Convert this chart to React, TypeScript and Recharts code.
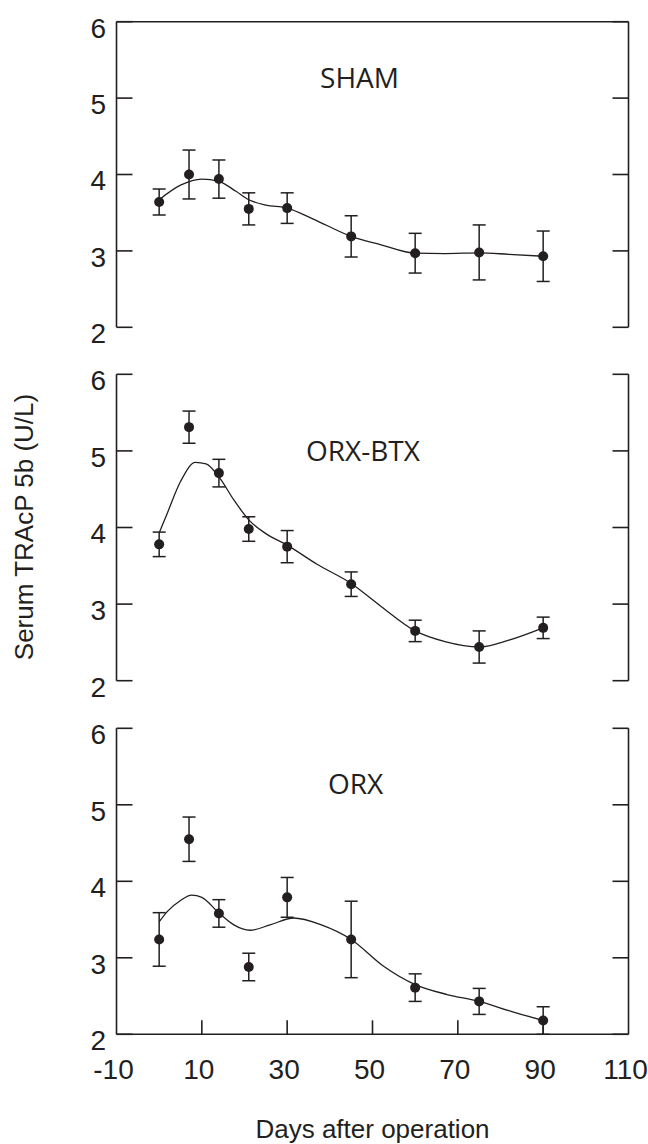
import React from "react";
import { ComposedChart, Line, Scatter, ErrorBar, XAxis, YAxis, ReferenceLine } from "recharts";

// sampling days (days after operation)
const days = [0, 7, 14, 21, 30, 45, 60, 75, 90];

// means and SEM (U/L)
const shamMean = [3.64, 4.0, 3.94, 3.55, 3.56, 3.19, 2.97, 2.98, 2.93];
const shamSem = [0.17, 0.32, 0.25, 0.21, 0.2, 0.27, 0.26, 0.36, 0.33];

const btxMean = [3.78, 5.31, 4.71, 3.98, 3.75, 3.26, 2.65, 2.44, 2.69];
const btxSem = [0.16, 0.21, 0.18, 0.16, 0.21, 0.16, 0.14, 0.21, 0.14];

const orxMean = [3.24, 4.55, 3.58, 2.88, 3.79, 3.24, 2.61, 2.43, 2.18];
const orxSem = [0.35, 0.29, 0.18, 0.18, 0.26, 0.5, 0.18, 0.17, 0.18];

// fitted curves
const shamFitDays = [0, 5, 10, 14, 18, 21, 25, 30, 36, 45, 52, 60, 67, 75, 82, 90];
const shamFit = [3.67, 3.86, 3.94, 3.91, 3.78, 3.67, 3.6, 3.56, 3.42, 3.19, 3.08, 2.97, 2.965, 2.975, 2.955, 2.93];

const btxFitDays = [0, 2, 5, 8.5, 11, 14, 17.5, 21, 25, 30, 37, 45, 52, 60, 67, 75, 82, 90];
const btxFit = [3.93, 4.2, 4.6, 4.85, 4.83, 4.66, 4.36, 4.1, 3.92, 3.77, 3.52, 3.27, 2.97, 2.65, 2.51, 2.44, 2.53, 2.69];

const orxFitDays = [0, 2, 5, 7.6, 10, 14, 17.5, 21.3, 26, 31.5, 38, 45, 52.6, 60, 67.5, 75, 82.5, 90];
const orxFit = [3.47, 3.61, 3.75, 3.82, 3.79, 3.585, 3.43, 3.36, 3.43, 3.52, 3.43, 3.24, 2.89, 2.65, 2.52, 2.43, 2.3, 2.18];

const xTicks = [-10, 10, 30, 50, 70, 90, 110];
const yTicks = [2, 3, 4, 5, 6];

const INK = "#231f20";
const SANS = "'Liberation Sans', Arial, Helvetica, sans-serif";
const TITLE_FONT = "'Open Sans', 'Noto Sans', sans-serif";
const X_TICK_GAP = 25;

const toPoints = (mean: number[], sem: number[]) =>
  days.map((day, i) => ({ day, v: mean[i], err: sem[i] }));
const toCurve = (d: number[], v: number[]) => d.map((day, i) => ({ day, v: v[i] }));

const renderDot = (p: any) => <circle cx={p.cx} cy={p.cy} r={5} fill={INK} />;
// inner tick axes: tick marks only, no labels
const noLabel = () => <g />;

// x tick: label below the axis, short mark pointing up into the plot
const XTick = (props: any) => {
  const { x, y, payload } = props;
  const v = payload.value;
  const axisY = y - X_TICK_GAP;
  return (
    <g>
      {v > -10 && v < 110 && (
        <line x1={x} x2={x} y1={axisY} y2={axisY - 14} stroke={INK} strokeWidth={1.6} />
      )}
      <text x={x - 3} y={y} dy="0.71em" textAnchor="middle" fontSize={28} fill={INK} fontFamily={SANS}>
        {v}
      </text>
    </g>
  );
};

interface PanelProps {
  top: number;
  height: number;
  marginTop: number;
  marginBottom: number;
  points: { day: number; v: number; err: number }[];
  curve: { day: number; v: number }[];
  topLine?: boolean;
  xAxis?: boolean;
}

function Panel({ top, height, marginTop, marginBottom, points, curve, topLine, xAxis }: PanelProps) {
  return (
    <div style={{ position: "absolute", left: 0, top, width: 648, height }}>
      <ComposedChart
        width={648}
        height={height}
        margin={{ top: marginTop, right: 19.5, bottom: marginBottom, left: 16.5 }}
      >
        {xAxis ? (
          <XAxis
            xAxisId="main"
            type="number"
            dataKey="day"
            domain={[-10, 110]}
            ticks={xTicks}
            allowDataOverflow
            interval={0}
            height={109.7}
            tickLine={false}
            tickSize={0}
            tickMargin={X_TICK_GAP}
            axisLine={{ stroke: INK, strokeWidth: 1.6 }}
            tick={XTick}
            label={{
              value: "Days after operation",
              position: "insideBottom",
              offset: 6,
              style: { fontSize: 26, fill: INK, fontFamily: SANS },
            }}
          />
        ) : (
          <XAxis xAxisId="main" type="number" dataKey="day" domain={[-10, 110]} allowDataOverflow hide />
        )}
        <YAxis
          yAxisId="v"
          type="number"
          domain={[2, 6]}
          ticks={yTicks}
          allowDataOverflow
          width={100}
          tickLine={false}
          tickSize={0}
          tickMargin={10.5}
          axisLine={{ stroke: INK, strokeWidth: 1.6 }}
          tick={{ fontSize: 28, fill: INK, fontFamily: SANS, dy: 6 }}
        />
        <YAxis
          yAxisId="vin"
          type="number"
          domain={[2, 6]}
          ticks={yTicks}
          allowDataOverflow
          mirror
          tick={noLabel}
          axisLine={false}
          tickSize={16}
          tickLine={{ stroke: INK, strokeWidth: 1.6 }}
        />
        <YAxis
          yAxisId="vr"
          orientation="right"
          type="number"
          domain={[2, 6]}
          ticks={yTicks}
          allowDataOverflow
          mirror
          tick={noLabel}
          tickSize={16}
          axisLine={{ stroke: INK, strokeWidth: 1.6 }}
          tickLine={{ stroke: INK, strokeWidth: 1.6 }}
        />
        {topLine && (
          <ReferenceLine xAxisId="main" yAxisId="v" y={6} stroke={INK} strokeWidth={1.6} />
        )}
        <Line
          data={curve}
          dataKey="v"
          xAxisId="main"
          yAxisId="v"
          type="monotone"
          dot={false}
          activeDot={false}
          stroke={INK}
          strokeWidth={1.3}
          isAnimationActive={false}
        />
        <Scatter
          data={points}
          dataKey="v"
          xAxisId="main"
          yAxisId="v"
          shape={renderDot}
          isAnimationActive={false}
        >
          <ErrorBar dataKey="err" direction="y" width={6.5} stroke={INK} strokeWidth={1.5} />
        </Scatter>
      </ComposedChart>
    </div>
  );
}

const titleStyle = (x: number, y: number): React.CSSProperties => ({
  position: "absolute",
  left: x,
  top: y,
  transform: "translate(-50%, -50%)",
  fontFamily: TITLE_FONT,
  fontSize: 28,
  lineHeight: 1,
  color: INK,
  whiteSpace: "nowrap",
});

export default function App() {
  return (
    <div style={{ position: "absolute", left: 0, top: 0, width: 648, height: 1144, background: "#fff" }}>
      <Panel
        top={0}
        height={362}
        marginTop={21.7}
        marginBottom={34.7}
        points={toPoints(shamMean, shamSem)}
        curve={toCurve(shamFitDays, shamFit)}
        topLine
      />
      <Panel
        top={345}
        height={372}
        marginTop={29.3}
        marginBottom={36.3}
        points={toPoints(btxMean, btxSem)}
        curve={toCurve(btxFitDays, btxFit)}
      />
      <Panel
        top={700}
        height={444}
        marginTop={28.3}
        marginBottom={0}
        points={toPoints(orxMean, orxSem)}
        curve={toCurve(orxFitDays, orxFit)}
        xAxis
      />
      <div style={titleStyle(359.5, 77)}>SHAM</div>
      <div style={titleStyle(363, 450)}>ORX-BTX</div>
      <div style={titleStyle(355.5, 783)}>ORX</div>
      <div
        style={{
          position: "absolute",
          left: 24,
          top: 527,
          transform: "translate(-50%, -50%) rotate(-90deg)",
          fontFamily: SANS,
          fontSize: 26,
          lineHeight: 1,
          color: INK,
          whiteSpace: "nowrap",
        }}
      >
        Serum TRAcP 5b (U/L)
      </div>
    </div>
  );
}
